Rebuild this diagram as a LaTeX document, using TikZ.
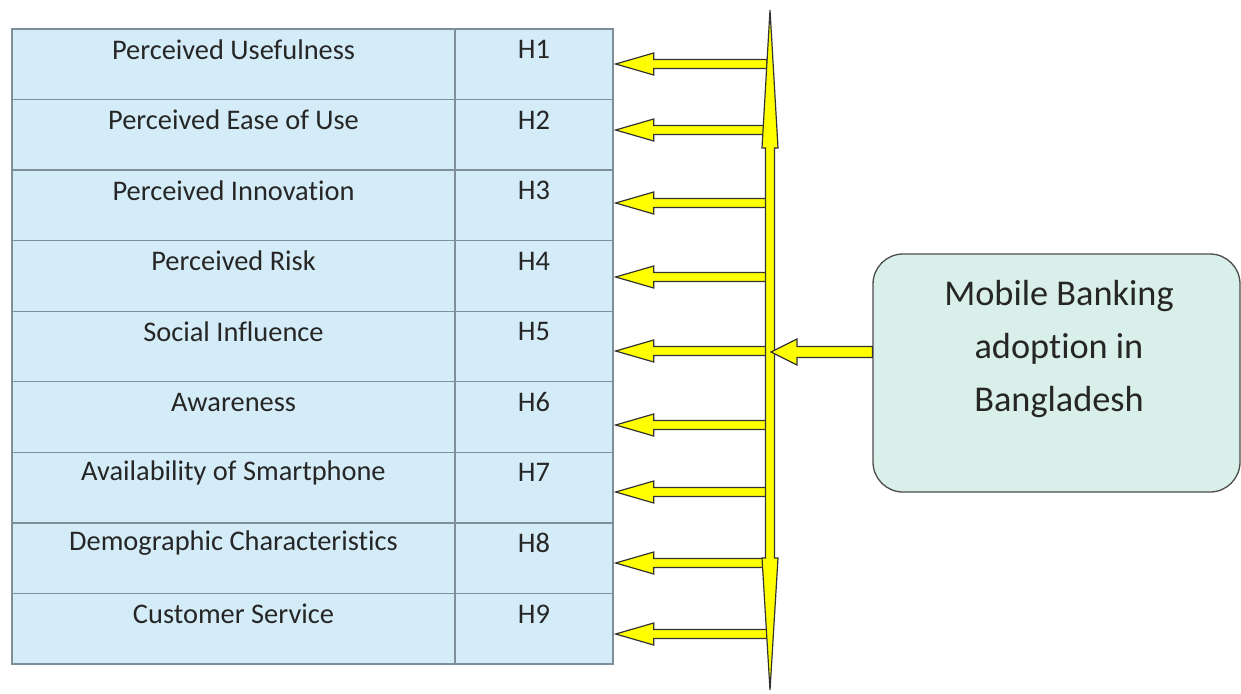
\documentclass[tikz,border=0pt]{standalone}
\usepackage{fontspec}
\setmainfont{Carlito}[Ligatures=NoCommon]
\usetikzlibrary{calc}
\definecolor{cellblue}{HTML}{D4ECF7}
\definecolor{gridgray}{HTML}{7F8F99}
\definecolor{boxgreen}{HTML}{D9EFEA}
\definecolor{arrowyel}{HTML}{FFFF00}
\definecolor{outl}{HTML}{333333}
\newcommand\hArrow[5]{%
  \filldraw[arr] let \p1=(#1), \p2=(#2) in
    (\x1,\y1-#3) -- (\x2+#4,\y1-#3) -- (\x2+#4,\y1-#5) -- (\p2) --
    (\x2+#4,\y1+#5) -- (\x2+#4,\y1+#3) -- (\x1,\y1+#3) -- cycle;}
\begin{document}
\begin{tikzpicture}[x=1pt,y=-1pt,
  cell/.style={draw=gridgray, line width=1.3pt, fill=cellblue, minimum height=70.56pt, inner sep=0pt},
  txt/.style={font=\fontsize{28.4}{31}\selectfont, text=black!85, inner sep=0pt},
  arr/.style={fill=arrowyel, draw=outl, line width=1.2pt, line join=miter},
  mbox/.style={draw=black!70, line width=1.3pt, fill=boxgreen, rounded corners=30pt, minimum width=367pt, minimum height=238pt, inner sep=0pt}]
\useasboundingbox (0,0) rectangle (1241,693);
\foreach \i/\nm/\h/\ay in {1/Perceived Usefulness/H1/64,2/Perceived Ease of Use/H2/130,3/Perceived Innovation/H3/203,4/Perceived Risk/H4/277,5/Social Influence/H5/351,6/Awareness/H6/425,7/Availability of Smartphone/H7/492,8/Demographic Characteristics/H8/563,9/Customer Service/H9/634}{
  \pgfmathsetmacro\yc{29+(\i-0.5)*70.56}
  \node[cell, minimum width=443pt] (L\i) at (233.5,\yc) {};
  \node[cell, minimum width=158pt] (R\i) at (534,\yc) {};
  \node[txt] (LT\i) at ($(L\i.north)+(0,21)$) {\nm};
  \node[txt] (RT\i) at ($(R\i.north)+(0,21)$) {\h};
  \coordinate (s\i) at (767,\ay);
  \coordinate (t\i) at ($(R\i.east |- s\i)+(2,0)$);
  \hArrow{s\i}{t\i}{4.5pt}{38pt}{11pt}
}
% vertical double arrow
\coordinate (vtop) at (770,10);
\coordinate (vbot) at (770,690);
\filldraw[arr] (vtop) -- ($(vtop)+(8,138)$) -- ($(vtop)+(4.5,138)$) -- ($(vbot)+(4.5,-132)$) -- ($(vbot)+(8,-132)$) -- (vbot)
  -- ($(vbot)+(-8,-132)$) -- ($(vbot)+(-4.5,-132)$) -- ($(vtop)+(-4.5,138)$) -- ($(vtop)+(-8,138)$) -- cycle;
% target box
\node[mbox] (mb) at (1056.5,373) {};
\node[font=\fontsize{36.3}{53}\selectfont, align=center, text=black!85, inner sep=0pt] (mbt) at (1059,349) {Mobile Banking\\adoption in\\Bangladesh};
\coordinate (mtip) at (771,352);
\hArrow{mb.west |- mtip}{mtip}{5.5pt}{26pt}{13pt}
\end{tikzpicture}
\end{document}
